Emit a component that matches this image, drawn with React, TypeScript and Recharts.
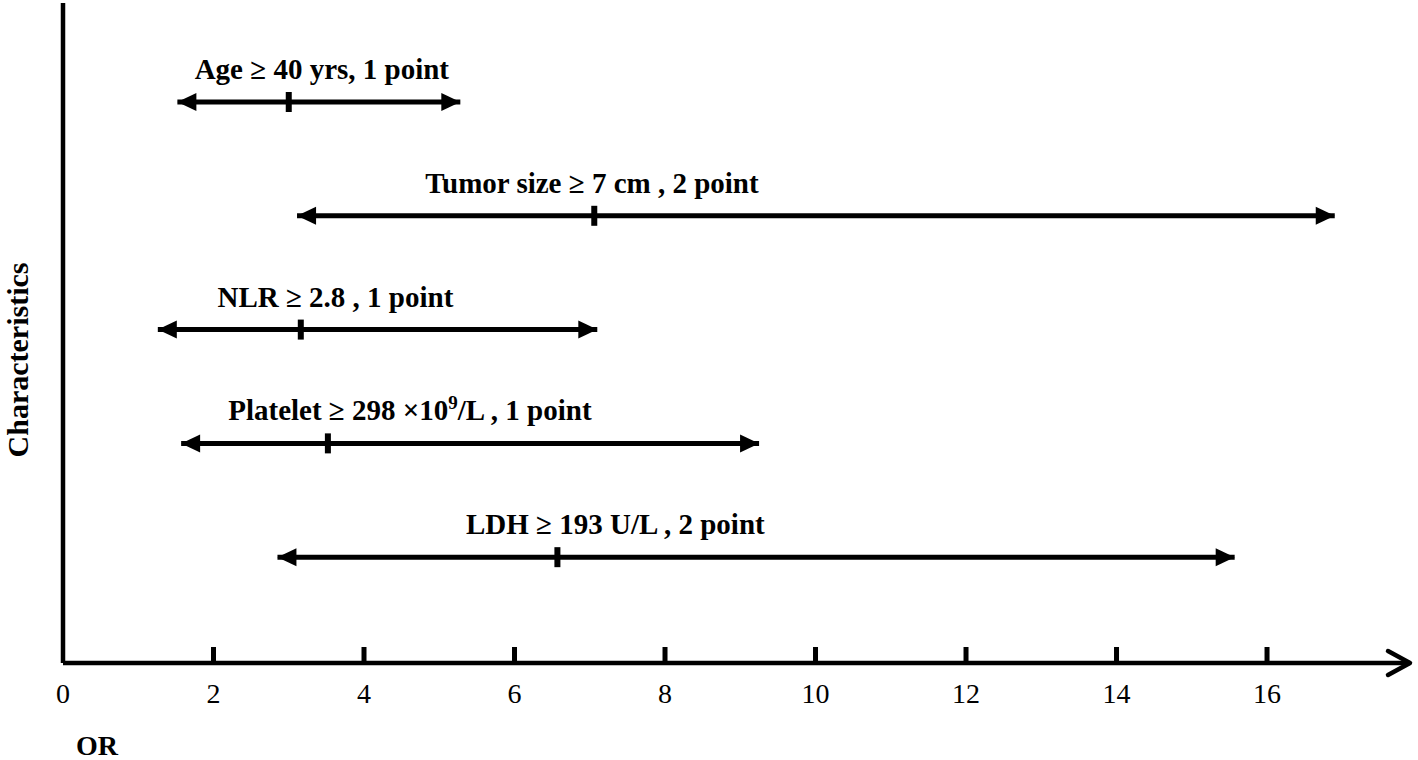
import React from 'react';
import { ScatterChart, Scatter, XAxis, YAxis } from 'recharts';

// odds ratio with 95% CI for each scoring factor (top to bottom)
const factors = ['Age', 'Tumor size', 'NLR', 'Platelet', 'LDH'];
const labels = [
  'Age \u2265 40 yrs, 1 point',
  'Tumor size \u2265 7 cm , 2 point',
  'NLR \u2265 2.8 , 1 point',
  'Platelet \u2265 298 \u00d710^9/L , 1 point',
  'LDH \u2265 193 U/L , 2 point',
];
const orValues = [3.0, 7.06, 3.16, 3.52, 6.57];
const ciLow = [1.52, 3.11, 1.26, 1.57, 2.85];
const ciHigh = [5.28, 16.9, 7.1, 9.25, 15.57];
const labelAt = [3.44, 7.03, 3.62, 4.61, 7.34];
const rowPos = [5, 4, 3, 2, 1];
const xTicks = [0, 2, 4, 6, 8, 10, 12, 14, 16];

const FONT = '"Liberation Serif", "Times New Roman", serif';

const rangeData = factors.map((f, i) => [
  { x: ciLow[i], y: rowPos[i], side: 'left' },
  { x: ciHigh[i], y: rowPos[i], side: 'right' },
]);
const pointData = factors.map((f, i) => ({ x: orValues[i], y: rowPos[i] }));
const labelData = factors.map((f, i) => ({ x: labelAt[i], y: rowPos[i], text: labels[i] }));

const ArrowHead = (props: any) => {
  const { cx, cy, payload } = props;
  if (cx == null || cy == null) return null;
  const d = payload.side === 'left' ? 1 : -1;
  return (
    <polygon
      points={`${cx},${cy} ${cx + d * 19},${cy - 9} ${cx + d * 19},${cy + 9}`}
      fill="#000"
    />
  );
};

const PointTick = (props: any) => {
  const { cx, cy } = props;
  if (cx == null || cy == null) return null;
  return <rect x={cx - 3} y={cy - 10} width={6} height={20} fill="#000" />;
};

const RowLabel = (props: any) => {
  const { cx, cy, payload } = props;
  if (cx == null || cy == null) return null;
  const parts = String(payload.text).split('^');
  return (
    <text x={cx} y={cy - 23} textAnchor="middle" fontFamily={FONT} fontWeight="bold" fontSize={29} fill="#000">
      {parts.length === 1 ? (
        parts[0]
      ) : (
        <>
          <tspan>{parts[0]}</tspan>
          <tspan fontSize={19} dy={-11}>{parts[1].charAt(0)}</tspan>
          <tspan dy={11}>{parts[1].slice(1)}</tspan>
        </>
      )}
    </text>
  );
};

const AxisTick = (props: any) => {
  const { x, y, payload } = props;
  return (
    <g>
      {payload.value !== 0 && <rect x={x - 2.5} y={y - 16} width={5} height={16} fill="#000" />}
      <text x={x} y={y + 40} textAnchor="middle" fontFamily={FONT} fontSize={28} fill="#000">
        {payload.value}
      </text>
    </g>
  );
};

export default function App() {
  return (
    <div style={{ position: 'absolute', left: 0, top: 0, width: 1418, height: 760, background: '#fff' }}>
      <ScatterChart width={1418} height={760} margin={{ top: 3, right: 8, bottom: 0, left: 0 }}>
        <defs>
          <marker id="axisArrow" markerUnits="userSpaceOnUse" orient="auto" refX={0} refY={0} markerWidth={30} markerHeight={30} overflow="visible">
            <path d="M-22,-12 L0,0 L-22,12" fill="none" stroke="#000" strokeWidth={4.5} strokeLinecap="round" strokeLinejoin="round" />
          </marker>
        </defs>
        <XAxis
          type="number"
          dataKey="x"
          domain={[0, 17.9]}
          ticks={xTicks}
          allowDataOverflow
          height={97}
          tickSize={0}
          tickMargin={0}
          tickLine={false}
          tick={<AxisTick />}
          axisLine={{ stroke: '#000', strokeWidth: 4.5, markerEnd: 'url(#axisArrow)' }}
        />
        <YAxis
          type="number"
          dataKey="y"
          domain={[0.07, 5.87]}
          allowDataOverflow
          width={63}
          tick={false}
          tickLine={false}
          axisLine={{ stroke: '#000', strokeWidth: 4.5 }}
        />
        {rangeData.map((d, i) => (
          <Scatter
            key={factors[i]}
            data={d}
            line={{ stroke: '#000', strokeWidth: 5 }}
            shape={<ArrowHead />}
            isAnimationActive={false}
          />
        ))}
        <Scatter data={pointData} shape={<PointTick />} isAnimationActive={false} />
        <Scatter data={labelData} shape={<RowLabel />} isAnimationActive={false} />
        <text x={28} y={360} transform="rotate(-90 28 360)" textAnchor="middle" fontFamily={FONT} fontWeight="bold" fontSize={30} fill="#000">
          Characteristics
        </text>
        <text x={97} y={755} textAnchor="middle" fontFamily={FONT} fontWeight="bold" fontSize={28} fill="#000">
          OR
        </text>
      </ScatterChart>
    </div>
  );
}
